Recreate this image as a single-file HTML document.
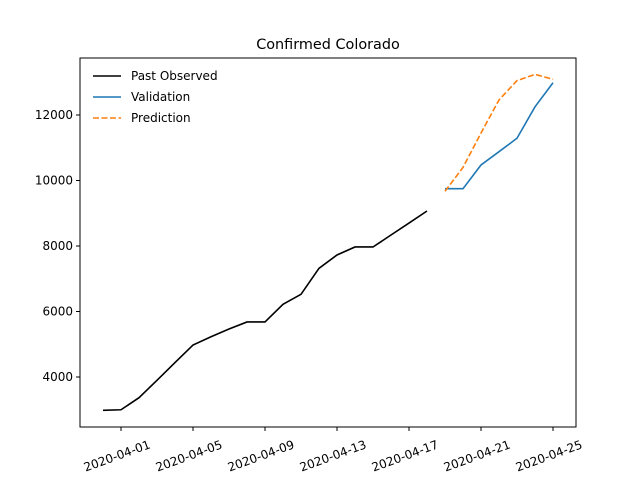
<!DOCTYPE html>
<html><head><meta charset="utf-8"><style>body{margin:0;background:#fff}svg{font-family:"DejaVu Sans","Liberation Sans",sans-serif}</style></head>
<body>
<svg id="chart" width="640" height="480">
<rect x="0" y="0" width="640" height="480" fill="#fff"/>
<text x="328" y="49" text-anchor="middle" font-size="14.4">Confirmed Colorado</text>
<g id="lines"></g>
<rect x="80" y="58" width="496" height="369" fill="none" stroke="#000" stroke-width="1"/>
<g id="axes" font-size="12"></g>
<g font-size="12">
<line x1="93" y1="76" x2="121" y2="76" stroke="#000" stroke-width="1.6"/>
<text x="131" y="80">Past Observed</text>
<line x1="93" y1="97" x2="121" y2="97" stroke="#1f77b4" stroke-width="1.6"/>
<text x="131" y="101">Validation</text>
<line x1="93" y1="118" x2="121" y2="118" stroke="#ff7f0e" stroke-width="1.6" stroke-dasharray="6,2.5"/>
<text x="131" y="122">Prediction</text>
</g>
</svg>
<script>
const pastDays=[0,1,2,3,4,5,6,7,8,9,10,11,12,13,14,15,16,17,18];
const pastValues=[2983,3000,3368,3900,4440,4977,5230,5465,5680,5680,6220,6525,7319,7725,7970,7970,8336,8700,9069];
const valDays=[19,20,21,22,23,24,25];
const valValues=[9750,9750,10473,10880,11290,12250,12985];
const predDays=[19,20,21,22,23,24,25];
const predValues=[9670,10400,11450,12460,13050,13240,13090];
const yTicks=[4000,6000,8000,10000,12000];
const xTickDays=[1,5,9,13,17,21,25];
const xTickLabels=["2020-04-01","2020-04-05","2020-04-09","2020-04-13","2020-04-17","2020-04-21","2020-04-25"];
const NS="http://www.w3.org/2000/svg";
function xs(d){return 103+d*18;}
function ys(v){return 377-(v-4000)*0.03275;}
const lines=document.getElementById('lines');
function poly(days,vals,color,dash,name){
 const p=document.createElementNS(NS,'polyline');
 p.setAttribute('points',days.map((d,i)=>xs(d)+','+ys(vals[i])).join(' '));
 p.setAttribute('fill','none');p.setAttribute('stroke',color);p.setAttribute('stroke-width','1.6');
 if(dash)p.setAttribute('stroke-dasharray','6,2.5');
 
 
 lines.appendChild(p);
}
poly(pastDays,pastValues,'#000',false,'past-observed-line');
poly(valDays,valValues,'#1f77b4',false,'validation-line');
poly(predDays,predValues,'#ff7f0e',true,'prediction-line');
const ax=document.getElementById('axes');
yTicks.forEach(v=>{
 const y=ys(v);
 const l=document.createElementNS(NS,'line');
 l.setAttribute('x1',76);l.setAttribute('x2',80);l.setAttribute('y1',y);l.setAttribute('y2',y);l.setAttribute('stroke','#000');
 
 
 ax.appendChild(l);
 const t=document.createElementNS(NS,'text');
 t.setAttribute('x',73);t.setAttribute('y',y+4);t.setAttribute('text-anchor','end');t.textContent=v;
 
 
 ax.appendChild(t);
});
xTickDays.forEach((d,i)=>{
 const x=xs(d);
 const l=document.createElementNS(NS,'line');
 l.setAttribute('x1',x);l.setAttribute('x2',x);l.setAttribute('y1',427);l.setAttribute('y2',431);l.setAttribute('stroke','#000');
 
 
 ax.appendChild(l);
 const t=document.createElementNS(NS,'text');
 t.setAttribute('text-anchor','middle');
 t.setAttribute('transform','translate('+(x-4)+',456) rotate(-20)');
 t.setAttribute('y',4);
 t.textContent=xTickLabels[i];
 
 
 ax.appendChild(t);
});
</script>
</body></html>
